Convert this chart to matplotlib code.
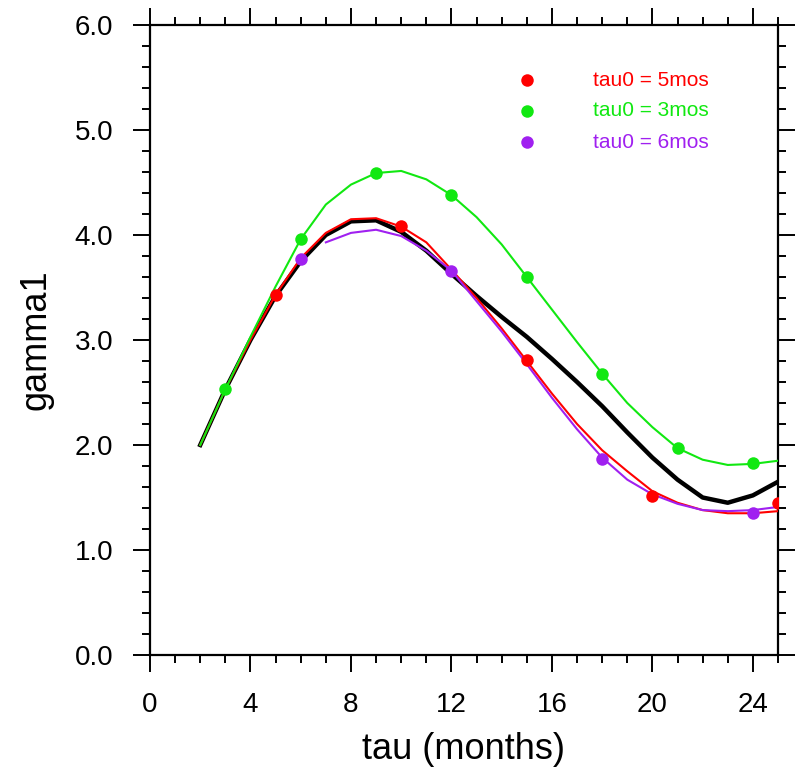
import matplotlib
matplotlib.use("Agg")
import matplotlib.pyplot as plt
from matplotlib.ticker import MultipleLocator, FormatStrFormatter

plt.rcParams["font.family"] = ["Liberation Sans", "DejaVu Sans"]

# mean curve (thick black)
tau_all = list(range(2, 26))
gamma_mean = [2.0, 2.53, 3.0, 3.42, 3.75, 4.0, 4.13, 4.14, 4.03, 3.85, 3.63, 3.42,
              3.22, 3.03, 2.82, 2.60, 2.37, 2.12, 1.88, 1.67, 1.50, 1.45, 1.52, 1.65]

# tau0 = 5mos
gamma_t5 = [2.0, 2.53, 3.0, 3.43, 3.78, 4.02, 4.15, 4.16, 4.08, 3.93, 3.67, 3.40,
            3.11, 2.80, 2.49, 2.20, 1.95, 1.75, 1.56, 1.45, 1.38, 1.35, 1.35, 1.37]
tau_t5_pts = [5, 10, 15, 20, 25]
gamma_t5_pts = [3.43, 4.09, 2.81, 1.51, 1.45]

# tau0 = 3mos
gamma_t3 = [2.0, 2.53, 3.03, 3.51, 3.96, 4.29, 4.48, 4.59, 4.61, 4.53, 4.38, 4.17,
            3.91, 3.60, 3.29, 2.98, 2.68, 2.40, 2.17, 1.97, 1.86, 1.81, 1.82, 1.85]
tau_t3_pts = [3, 6, 9, 12, 15, 18, 21, 24]
gamma_t3_pts = [2.53, 3.96, 4.59, 4.38, 3.60, 2.68, 1.97, 1.83]

# tau0 = 6mos
tau_t6 = list(range(7, 26))
gamma_t6 = [3.93, 4.02, 4.05, 3.99, 3.85, 3.66, 3.37, 3.08, 2.77, 2.45, 2.15, 1.88,
            1.67, 1.53, 1.44, 1.38, 1.37, 1.38, 1.41]
tau_t6_pts = [6, 12, 18, 24]
gamma_t6_pts = [3.77, 3.66, 1.87, 1.35]

legend_labels = ["tau0 = 5mos", "tau0 = 3mos", "tau0 = 6mos"]
red, green, purple = "#ff0000", "#11e811", "#a020f0"

fig = plt.figure(figsize=(7.95, 7.69), dpi=100)
ax = fig.add_axes([150 / 795, 1 - 655 / 769, 628 / 795, 630 / 769])

ax.plot(tau_all, gamma_mean, color="black", lw=3.2, zorder=3)
ax.plot(tau_all, gamma_t5, color=red, lw=1.5, zorder=4)
ax.plot(tau_all, gamma_t3, color=green, lw=1.5, zorder=4)
ax.plot(tau_t6, gamma_t6, color=purple, lw=1.5, zorder=4)

ax.plot(tau_t5_pts, gamma_t5_pts, "o", color=red, ms=9, mec="none", zorder=5)
ax.plot(tau_t3_pts, gamma_t3_pts, "o", color=green, ms=9, mec="none", zorder=5)
ax.plot(tau_t6_pts, gamma_t6_pts, "o", color=purple, ms=9, mec="none", zorder=5)

# legend drawn by hand in axes fraction
for i, (lab, c) in enumerate(zip(legend_labels, [red, green, purple])):
    yy = (655 - (80 + 31 * i)) / 630
    ax.plot([(527 - 150) / 628], [yy], "o", color=c, ms=9, mec="none",
            transform=ax.transAxes, clip_on=False)
    ax.text((593 - 150) / 628, yy, lab, color=c, fontsize=15,
            transform=ax.transAxes, va="center", ha="left")

ax.set_xlim(0, 25)
ax.set_ylim(0, 6)
ax.xaxis.set_major_locator(MultipleLocator(4))
ax.xaxis.set_minor_locator(MultipleLocator(1))
ax.yaxis.set_major_locator(MultipleLocator(1))
ax.yaxis.set_minor_locator(MultipleLocator(0.2))
ax.yaxis.set_major_formatter(FormatStrFormatter("%.1f"))

for s in ax.spines.values():
    s.set_linewidth(1.6)
ax.tick_params(which="both", direction="out", top=True, right=True, width=1.4)
ax.tick_params(which="major", length=12.5, labelsize=20, pad=14)
ax.tick_params(which="minor", length=6)

ax.set_xlabel("tau (months)", fontsize=26, labelpad=10)
ax.set_ylabel("gamma1", fontsize=26, labelpad=15)

fig.savefig("out.png", dpi=100)
